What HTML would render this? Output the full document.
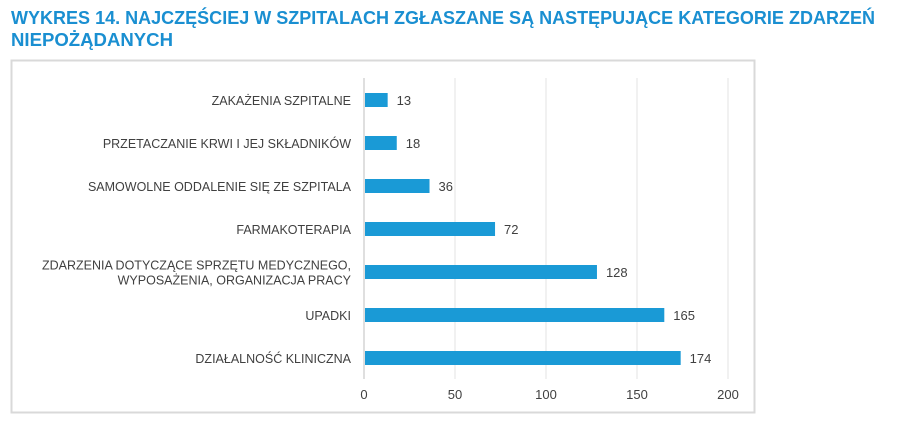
<!DOCTYPE html>
<html><head><meta charset="utf-8"><style>
body{margin:0;background:#fff;width:900px;height:425px;overflow:hidden;font-family:"Liberation Sans",sans-serif}
</style></head><body>
<svg id="chart" width="900" height="425">
<text x="11" y="24" font-size="18" font-weight="bold" fill="#1a8fd1" textLength="864" lengthAdjust="spacingAndGlyphs">WYKRES 14. NAJCZĘŚCIEJ W SZPITALACH ZGŁASZANE SĄ NASTĘPUJĄCE KATEGORIE ZDARZEŃ</text>
<text x="11" y="46" font-size="18" font-weight="bold" fill="#1a8fd1" textLength="162" lengthAdjust="spacingAndGlyphs">NIEPOŻĄDANYCH</text>
<rect x="11.5" y="60.5" width="743" height="352" fill="none" stroke="#d9d9d9" stroke-width="2"/>
<g id="plot"></g>
</svg>
<script>
const categories=[["ZAKAŻENIA SZPITALNE"],["PRZETACZANIE KRWI I JEJ SKŁADNIKÓW"],["SAMOWOLNE ODDALENIE SIĘ ZE SZPITALA"],["FARMAKOTERAPIA"],["ZDARZENIA DOTYCZĄCE SPRZĘTU MEDYCZNEGO,","WYPOSAŻENIA, ORGANIZACJA PRACY"],["UPADKI"],["DZIAŁALNOŚĆ KLINICZNA"]];
const values=[13,18,36,72,128,165,174];
const ticks=[0,50,100,150,200];
const NS="http://www.w3.org/2000/svg";
const g=document.getElementById('plot');
const x0=364,xs=1.82,plotTop=78,step=43,plotBottom=379;
const X=v=>x0+v*xs;
const Y=i=>plotTop+step*i+22;
function mk(t,a){const e=document.createElementNS(NS,t);for(const k in a)e.setAttribute(k,a[k]);g.appendChild(e);return e;}
ticks.forEach(t=>{
 const l=mk('line',{x1:X(t),x2:X(t),y1:plotTop,y2:plotBottom,stroke:t===0?'#bfbfbf':'#e3e3e3','stroke-width':1});
 
 
 const tx=mk('text',{x:X(t),y:399,'font-size':13,fill:'#404040','text-anchor':'middle'});tx.textContent=t;
 
 
});
values.forEach((v,i)=>{
 const cy=Y(i);
 const r=mk('rect',{x:X(0)+1,y:cy-7,width:v*xs-1,height:14,fill:'#1a9ad6'});
 
 
 const vl=mk('text',{x:X(v)+9,y:cy+5,'font-size':13,fill:'#404040'});vl.textContent=v;
 
 
 const lines=categories[i];
 lines.forEach((s,j)=>{
  const ty=cy+5+(j-(lines.length-1)/2)*15;
  const t=mk('text',{x:351,y:ty,'font-size':12.5,fill:'#404040','text-anchor':'end'});t.textContent=s;
  
  
 });
});
</script>
</body></html>
